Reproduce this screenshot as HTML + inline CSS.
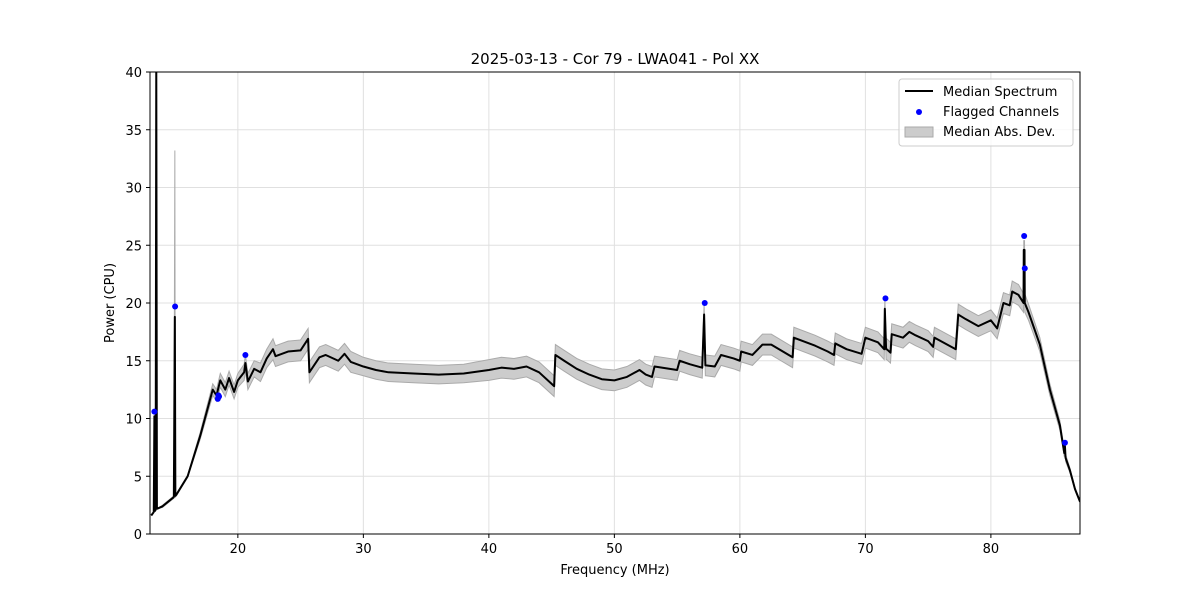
<!DOCTYPE html>
<html><head><meta charset="utf-8"><style>
body{margin:0;background:#fff;font-family:"Liberation Sans","DejaVu Sans",sans-serif}
</style></head><body>
<svg id="chart" width="1200" height="600" xmlns="http://www.w3.org/2000/svg" font-family="DejaVu Sans, Liberation Sans, sans-serif">
<rect width="1200" height="600" fill="#fff"/>
<text x="615" y="64" text-anchor="middle" font-size="15">2025-03-13 - Cor 79 - LWA041 - Pol XX</text>
<defs><clipPath id="clip"><rect x="150" y="72" width="930" height="462"/></clipPath></defs>
<g id="grid"></g>
<g id="band" clip-path="url(#clip)"></g>
<g id="line" clip-path="url(#clip)"></g>
<g id="pts"></g>
<rect x="150" y="72" width="930" height="462" fill="none" stroke="#000" stroke-width="1"/>
<g id="axes"></g>
<text x="615" y="574" text-anchor="middle" font-size="13">Frequency (MHz)</text>
<text transform="translate(114,303) rotate(-90)" text-anchor="middle" font-size="13">Power (CPU)</text>
<g>
<rect x="899" y="79" width="174" height="67" rx="3" fill="#fff" fill-opacity="0.8" stroke="#ccc"/>
<line x1="905" y1="91" x2="933" y2="91" stroke="#000" stroke-width="2"/>
<text x="943" y="96" font-size="13">Median Spectrum</text>
<circle cx="919" cy="112" r="3" fill="#00f"/>
<text x="943" y="116" font-size="13">Flagged Channels</text>
<rect x="905" y="127" width="28" height="10" fill="#ccc" stroke="#aaa"/>
<text x="943" y="136" font-size="13">Median Abs. Dev.</text>
</g>
</svg>
<script>
const freqs=[13.1,13.3,13.35,13.4,13.45,13.5,13.55,13.6,14,14.9,
14.98,15.02,15.1,16,17,17.5,18,18.3,18.6,19,
19.3,19.7,20,20.5,20.6,20.8,21.3,21.8,22.3,22.8,
23,24,25,25.6,25.7,26.5,27,28,28.5,29,
30,31,32,34,36,38,40,41,42,43,
44,45.2,45.3,46,47,48,49,50,51,52,
52.5,53,53.2,55,55.2,56,57,57.15,57.25,57.3,
58,58.5,59.5,60,60.1,61,61.8,62.5,64.2,64.3,
66,67,67.5,67.6,68.5,69.7,70,71,71.5,71.55,
71.65,71.7,72,72.1,73,73.5,74,75,75.4,75.5,
77.2,77.4,78,79,80,80.5,81,81.5,81.7,82.2,
82.6,82.62,82.68,82.7,83,83.9,84.7,85.5,85.85,85.9,
85.95,86.3,86.7,87.1];
const medians=[1.6,1.9,10.2,2.0,2.1,41,2.2,2.2,2.4,3.2,
18.8,3.3,3.4,5,8.5,10.5,12.5,12.0,13.3,12.5,
13.5,12.3,13.3,14.0,14.8,13.2,14.3,14.0,15.2,16.0,
15.4,15.8,15.9,16.9,14.0,15.3,15.5,15.0,15.6,14.9,
14.5,14.2,14.0,13.9,13.8,13.9,14.2,14.4,14.3,14.5,
14.0,12.8,15.5,15.0,14.3,13.8,13.4,13.3,13.6,14.2,
13.8,13.6,14.5,14.2,15.0,14.7,14.4,19.0,14.6,14.6,
14.5,15.5,15.2,15.0,15.8,15.5,16.4,16.4,15.3,17.0,
16.3,15.8,15.5,16.5,16.0,15.6,17.0,16.6,16.0,19.5,
16.0,16.0,15.7,17.3,17.0,17.5,17.2,16.7,16.2,17.0,
16.0,19.0,18.6,18.0,18.5,17.8,20.0,19.8,21.0,20.7,
20.0,24.6,24.6,20.0,19.2,16.4,12.5,9.4,7.0,7.6,
6.6,5.5,3.9,2.8];
const mads=[0,0,0,0,0,0,0,0,0.1,0.1,
14.4,0.1,0.1,0.1,0.3,0.4,0.5,0.5,0.6,0.6,
0.6,0.6,0.6,0.7,0.7,0.7,0.7,0.8,0.8,0.9,
0.9,0.9,0.9,0.9,0.9,0.9,0.9,0.9,0.9,0.9,
0.8,0.8,0.8,0.8,0.8,0.8,0.9,0.9,0.9,0.9,
0.9,0.9,0.9,0.9,0.9,0.9,0.9,0.9,0.9,0.9,
0.9,0.9,0.9,0.9,0.9,0.9,0.9,0.9,0.9,0.9,
0.9,0.9,0.9,0.9,0.9,0.9,0.9,0.9,0.9,0.9,
0.9,0.9,0.9,0.9,0.9,0.9,0.9,0.9,0.9,0.9,
0.9,0.9,0.9,0.9,0.9,0.9,0.9,0.9,0.9,0.9,
0.9,0.9,0.9,0.9,0.9,0.9,0.9,0.9,0.9,0.9,
0.8,0.8,0.8,0.8,0.7,0.6,0.5,0.4,0.3,0.3,
0.3,0.2,0.1,0.1];
const flagF=[13.35,15.0,18.4,18.45,18.5,20.6,57.2,71.6,82.65,82.7,85.9];
const flagV=[10.6,19.7,11.7,12.0,11.9,15.5,20.0,20.4,25.8,23.0,7.9];
const xTicks=[20,30,40,50,60,70,80];
const yTicks=[0,5,10,15,20,25,30,35,40];
const X0=150,X1=1080,Y0=534,Y1=72,FMIN=13.0,FMAX=87.1,VMIN=0,VMAX=40;
const sx=f=>X0+(f-FMIN)/(FMAX-FMIN)*(X1-X0);
const sy=v=>Y0-(v-VMIN)/(VMAX-VMIN)*(Y0-Y1);
const NS='http://www.w3.org/2000/svg';
function mk(t,a,p){const e=document.createElementNS(NS,t);for(const k in a)e.setAttribute(k,a[k]);p.appendChild(e);return e;}
const grid=document.getElementById('grid'),axes=document.getElementById('axes');
xTicks.forEach(t=>{const x=sx(t);
const g=mk('line',{x1:x,x2:x,y1:Y1,y2:Y0,stroke:'#e0e0e0','stroke-width':1},grid);


mk('line',{x1:x,x2:x,y1:Y0,y2:Y0+4,stroke:'#000'},axes);
const l=mk('text',{x:x,y:Y0+19,'text-anchor':'middle','font-size':13},axes);l.textContent=t;

});
yTicks.forEach(t=>{const y=sy(t);
const g=mk('line',{x1:X0,x2:X1,y1:y,y2:y,stroke:'#e0e0e0','stroke-width':1},grid);


mk('line',{x1:X0-4,x2:X0,y1:y,y2:y,stroke:'#000'},axes);
const l=mk('text',{x:X0-8,y:y+5,'text-anchor':'end','font-size':13},axes);l.textContent=t;

});
const n=Math.min(freqs.length,medians.length);
const up=[],dn=[];
for(let i=0;i<n;i++){const m=mads[i]||0;up.push(sx(freqs[i])+','+sy(medians[i]+m));dn.push(sx(freqs[i])+','+sy(medians[i]-m));}
const band=mk('polygon',{points:up.concat(dn.reverse()).join(' '),fill:'#ccc',stroke:'#aaa','stroke-width':1},document.getElementById('band'));


const lp=[];for(let i=0;i<n;i++)lp.push(sx(freqs[i])+','+sy(medians[i]));
const line=mk('polyline',{points:lp.join(' '),fill:'none',stroke:'#000','stroke-width':2,'stroke-linejoin':'round'},document.getElementById('line'));


flagF.forEach((f,i)=>{const c=mk('circle',{cx:sx(f),cy:sy(flagV[i]),r:3,fill:'#00f'},document.getElementById('pts'));

});
</script>
</body></html>
